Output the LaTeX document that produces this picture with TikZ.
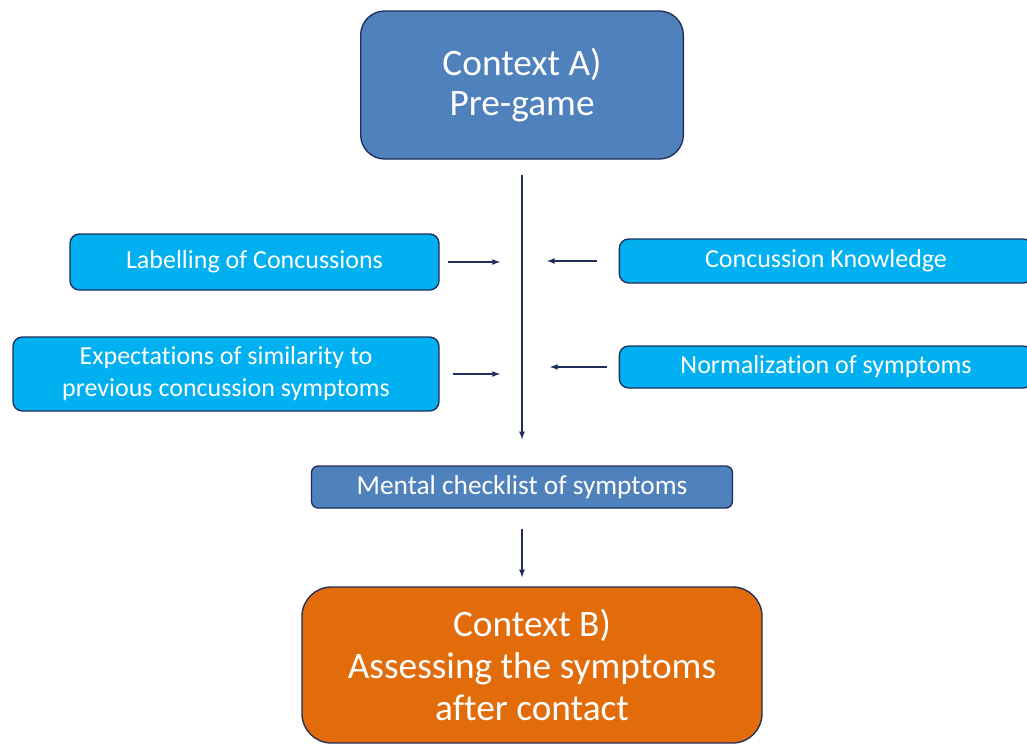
\documentclass[tikz,border=0pt]{standalone}
\usepackage{fontspec}
\setmainfont{Carlito}[Ligatures=NoCommon]
\usepackage{tikz}
\usetikzlibrary{calc,shapes}
\definecolor{officeblue}{HTML}{4F81BD}
\definecolor{officecyan}{HTML}{00B0F0}
\definecolor{officeorange}{HTML}{E36C0A}
\definecolor{navy}{HTML}{1F2D5A}
\tikzstyle{bluebox}=[rectangle,rounded corners=18pt,draw=navy,fill=officeblue,
                     text=white,font=\fontsize{28}{30}\selectfont,line width=1pt,
                     minimum width=242pt,minimum height=111pt,align=center]
\tikzstyle{orangebox}=[bluebox,fill=officeorange,rounded corners=22pt,
                       minimum width=345pt,minimum height=117pt,
                       font=\fontsize{28}{31.5}\selectfont]
\tikzstyle{cyanbox}=[rectangle,rounded corners=7pt,draw=navy,fill=officecyan,
                     text=white,font=\fontsize{19.5}{24}\selectfont,line width=1pt,
                     align=center,inner sep=0pt]
\tikzstyle{checkbox}=[cyanbox,fill=officeblue,rounded corners=5pt,
                      font=\fontsize{20.5}{22}\selectfont]
\tikzstyle{link}=[draw=navy,line width=1pt,-latex]
\newcommand\spinex{522}

\begin{document}
\begin{tikzpicture}[x=0.75pt,y=-0.75pt]
    \useasboundingbox (0,0) rectangle (1027,746);
    % main column
    \node [bluebox] (ctxA) at (\spinex,85) {Context A)\\Pre-game};
    \node [checkbox,minimum width=315.75pt,minimum height=31.5pt] (check) at (\spinex,487)
        {Mental checklist of symptoms};
    \node [orangebox] (ctxB) at (532,665)
        {Context B)\\Assessing the symptoms\\after contact};
    % side factors
    \node [cyanbox,minimum width=276.75pt,minimum height=42pt] (lab) at (254.5,262)
        {Labelling of Concussions};
    \node [cyanbox,minimum width=319.5pt,minimum height=55.5pt] (expect) at (226,374)
        {Expectations of similarity to\\previous concussion symptoms};
    \node [cyanbox,minimum width=310pt,minimum height=33pt] (know) at (826,261)
        {Concussion Knowledge};
    \node [cyanbox,minimum width=310pt,minimum height=31.5pt] (norm) at (826,367)
        {Normalization of symptoms};
    % connectors
    \draw [link,shorten <=11.25pt,shorten >=19.5pt] (ctxA) -- (check);
    \draw [link,shorten <=15pt,shorten >=6.75pt] (check) -- (check |- ctxB.north);
    \draw [link,shorten <=6pt,shorten >=16.5pt] (lab.east) -- (lab.east -| ctxA.south);
    \draw [link,shorten <=9.75pt,shorten >=16.5pt] (expect.east) -- (expect.east -| ctxA.south);
    \draw [link,shorten <=16.5pt,shorten >=18.75pt] (know.west) -- (know.west -| ctxA.south);
    \draw [link,shorten <=9pt,shorten >=21pt] (norm.west) -- (norm.west -| ctxA.south);
\end{tikzpicture}
\end{document}
